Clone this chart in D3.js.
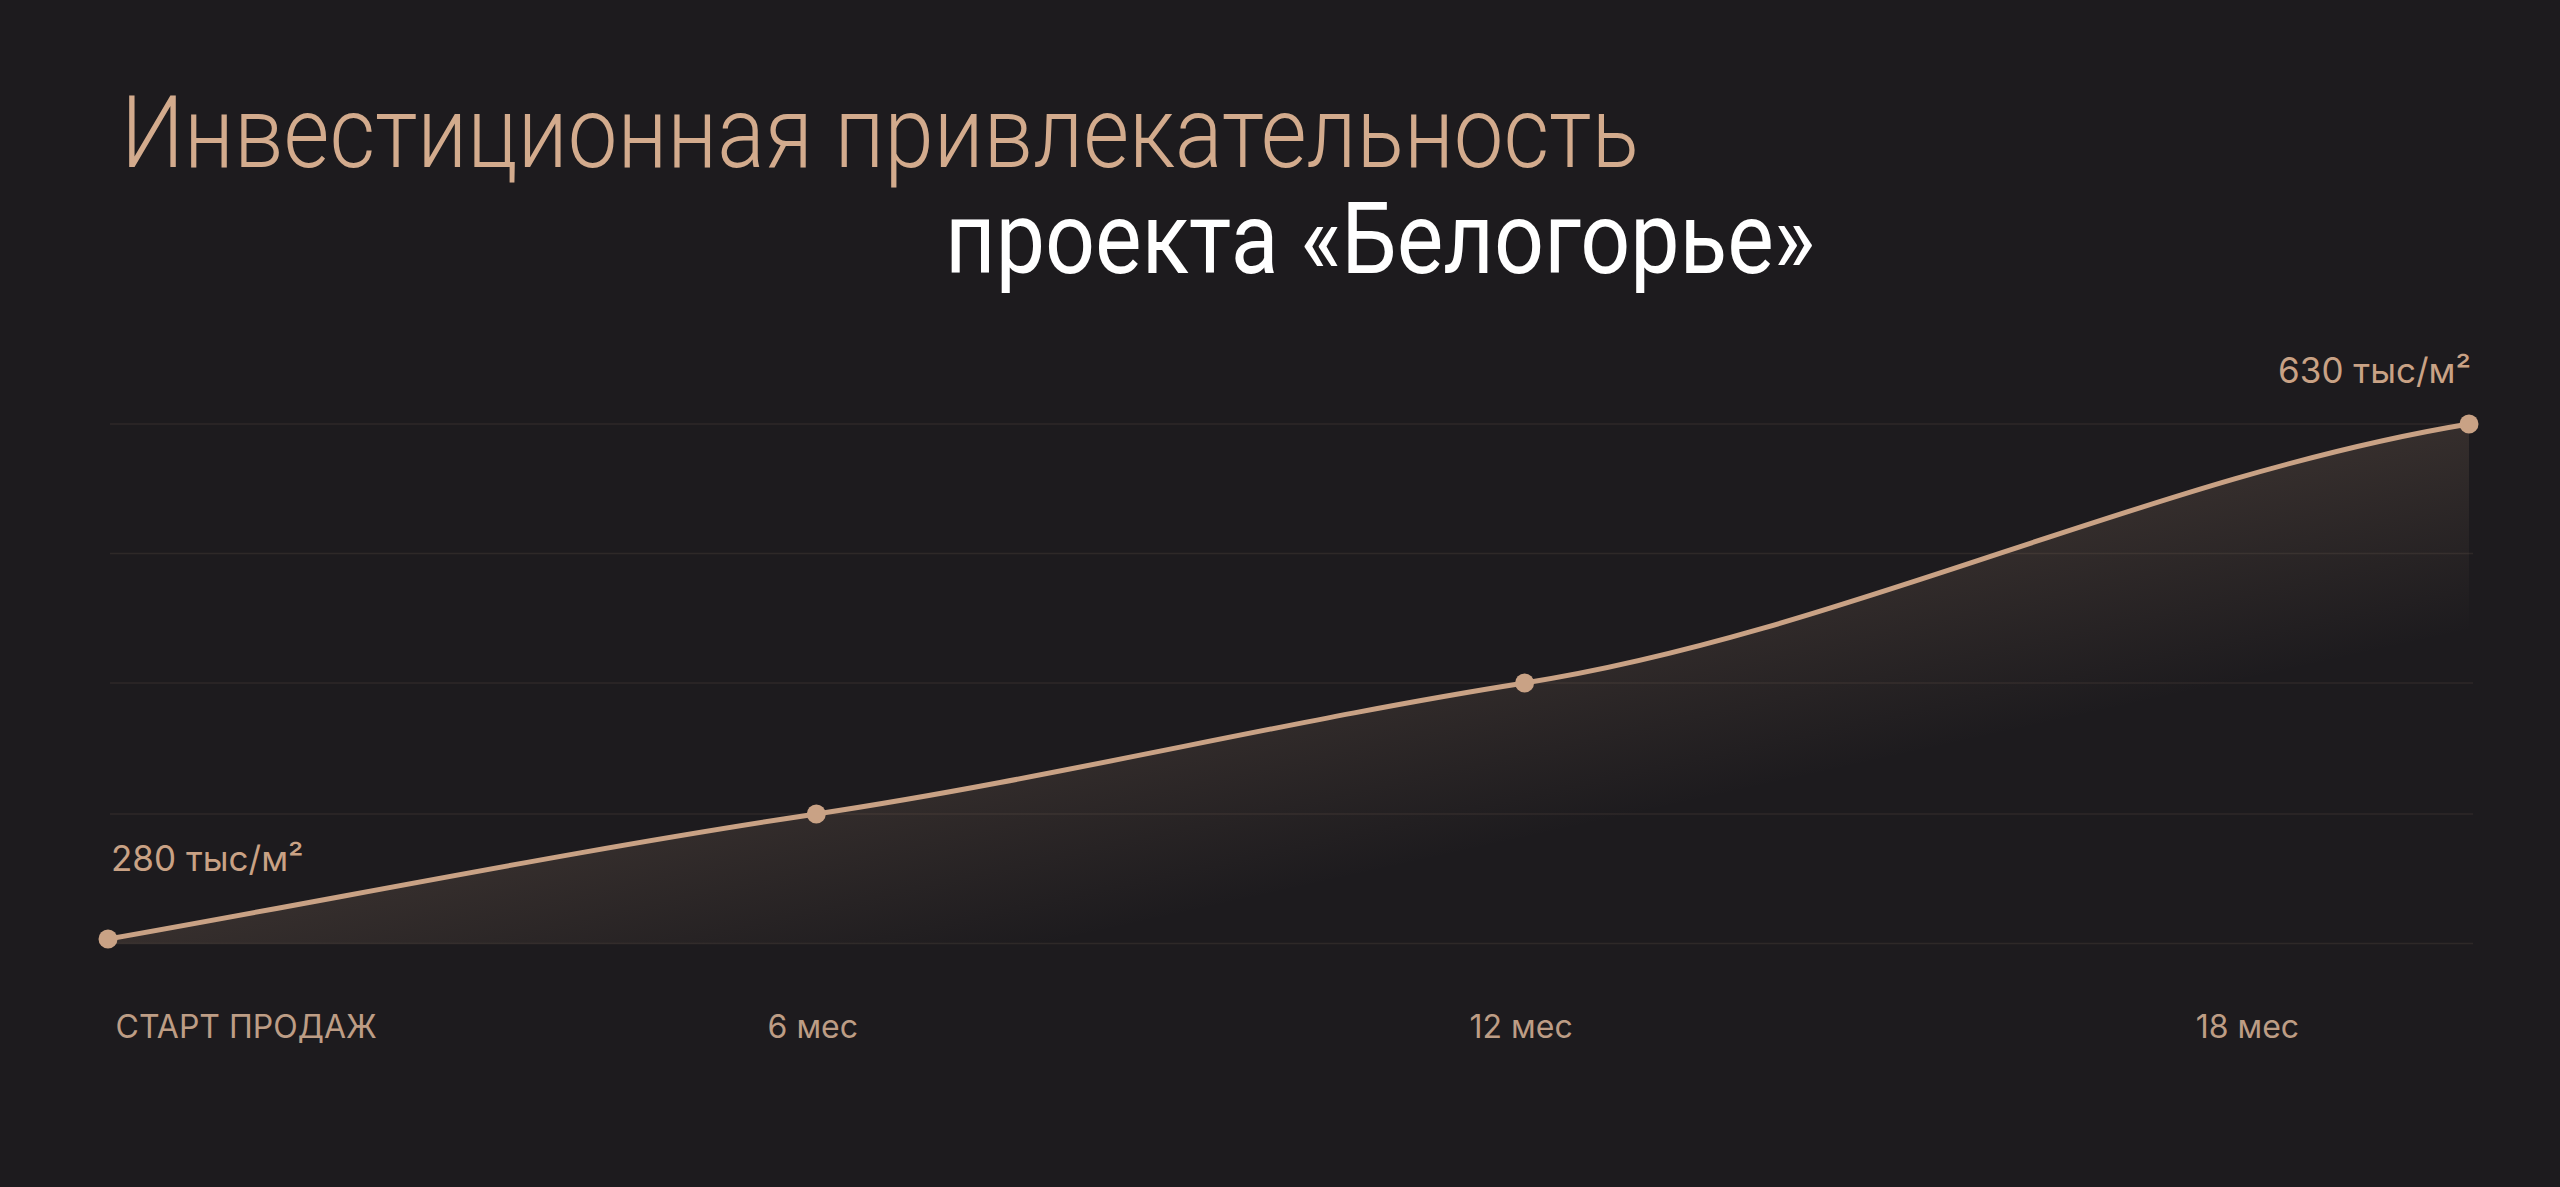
<!DOCTYPE html>
<html lang="ru">
<head>
<meta charset="utf-8">
<script src="https://cdn.jsdelivr.net/npm/d3@7"></script>
<style>
  html, body { margin: 0; padding: 0; background: #1d1b1e; }
  svg { display: block; }
</style>
</head>
<body>
<div id="chart"></div>
<script>
// Data
const months = [0, 6, 12, 20];
const prices = [280, 365, 454, 630];          // тыс. руб. за м²
const tickMonths = [0, 6, 12, 18];
const tickLabels = ["СТАРТ ПРОДАЖ", "6 мес", "12 мес", "18 мес"];
const gridLevels = [277, 365, 454, 542, 630];
const titleLines = ["Инвестиционная привлекательность", "проекта «Белогорье»"];

const W = 2560, H = 1187;
const tan = "#c9a285";

const svg = d3.select("#chart")
    .append("svg")
    .attr("width", W)
    .attr("height", H);

// Gradient under the curve
const defs = svg.append("defs");
const grad = defs.append("linearGradient")
    .attr("id", "areaFill")
    .attr("x1", 0).attr("y1", 0)
    .attr("x2", 1).attr("y2", 1);
grad.append("stop").attr("offset", 0.46).attr("stop-color", tan).attr("stop-opacity", 0.17);
grad.append("stop").attr("offset", 0.7).attr("stop-color", tan).attr("stop-opacity", 0);

// Scales
const x = d3.scaleLinear().domain([0, 20]).range([108, 2469]);
const y = d3.scaleLinear().domain([280, 630]).range([939, 424]);

// Smooth curve: tangents follow the gentler neighbouring slope, eases into the last point
function curveSoft(context) {
    let pts;
    return {
        areaStart() {}, areaEnd() {},
        lineStart() { pts = []; },
        point(px, py) { pts.push([px, py]); },
        lineEnd() {
            const n = pts.length;
            const s = d3.pairs(pts).map(([a, b]) => (b[1] - a[1]) / (b[0] - a[0]));
            const m = pts.map((p, i) => {
                if (i === 0) return s[0];
                if (i === n - 1) return s[n - 2] * 0.6;
                return 0.85 * (Math.abs(s[i - 1]) < Math.abs(s[i]) ? s[i - 1] : s[i]);
            });
            context.moveTo(pts[0][0], pts[0][1]);
            for (let i = 0; i < n - 1; i++) {
                const [x0, y0] = pts[i], [x1, y1] = pts[i + 1], h = (x1 - x0) / 3;
                context.bezierCurveTo(x0 + h, y0 + m[i] * h, x1 - h, y1 - m[i + 1] * h, x1, y1);
            }
        }
    };
}

const data = months.map((m, i) => ({ month: m, price: prices[i] }));

const line = d3.line()
    .x(d => x(d.month))
    .y(d => y(d.price))
    .curve(curveSoft);

const base = y(gridLevels[0]);
const linePath = line(data);
const areaPath = linePath
    + `L${x(months[months.length - 1])},${base}`
    + `L${x(months[0])},${base}Z`;

// Area
svg.append("path")
    .attr("d", areaPath)
    .attr("fill", "url(#areaFill)");

// Grid lines
svg.append("g")
    .selectAll("line")
    .data(gridLevels)
    .join("line")
    .attr("x1", 110)
    .attr("x2", 2473)
    .attr("y1", d => y(d))
    .attr("y2", d => y(d))
    .attr("stroke", tan)
    .attr("stroke-opacity", 0.1)
    .attr("stroke-width", 1.5);

// Line
svg.append("path")
    .attr("d", linePath)
    .attr("fill", "none")
    .attr("stroke", tan)
    .attr("stroke-width", 5)
    .attr("stroke-linecap", "round");

// Points
svg.append("g")
    .selectAll("circle")
    .data(data)
    .join("circle")
    .attr("cx", d => x(d.month))
    .attr("cy", d => y(d.price))
    .attr("r", 9.5)
    .attr("fill", tan);

// Value labels at both ends
const first = data[0], last = data[data.length - 1];
svg.append("text")
    .attr("x", x(first.month) + 3)
    .attr("y", y(first.price) - 68)
    .attr("font-family", "Inter, 'Noto Sans', sans-serif")
    .attr("font-size", 35)
    .attr("fill", tan)
    .text(`${first.price} тыс/м²`);

svg.append("text")
    .attr("x", x(last.month) + 2)
    .attr("y", y(last.price) - 41)
    .attr("text-anchor", "end")
    .attr("font-family", "Inter, 'Noto Sans', sans-serif")
    .attr("font-size", 35)
    .attr("fill", tan)
    .text(`${last.price} тыс/м²`);

// X axis labels
const xAxis = d3.axisBottom(x)
    .tickValues(tickMonths)
    .tickFormat((d, i) => tickLabels[i])
    .tickSize(0)
    .tickPadding(0);

const axisG = svg.append("g")
    .attr("transform", "translate(0, 1038)")
    .call(xAxis);
axisG.select(".domain").remove();
axisG.selectAll("text")
    .attr("dy", 0)
    .attr("font-family", "Inter, 'Noto Sans', sans-serif")
    .attr("font-size", 32)
    .attr("fill", "#bd9d85")
    .attr("text-anchor", (d, i) => i === 0 ? "start" : "middle")
    .attr("dx", (d, i) => i === 0 ? 7 : (i === tickMonths.length - 1 ? 14 : -4));

// Title
svg.append("text")
    .attr("x", 121)
    .attr("y", 167)
    .attr("font-family", "Roboto, sans-serif")
    .attr("font-weight", 300)
    .attr("font-size", 100)
    .attr("fill", "#d3ab8d")
    .attr("textLength", 1518)
    .attr("lengthAdjust", "spacingAndGlyphs")
    .text(titleLines[0]);

svg.append("text")
    .attr("x", 945)
    .attr("y", 273)
    .attr("font-family", "Roboto, sans-serif")
    .attr("font-weight", 400)
    .attr("font-size", 100)
    .attr("fill", "#ffffff")
    .attr("textLength", 870)
    .attr("lengthAdjust", "spacingAndGlyphs")
    .text(titleLines[1]);
</script>
</body>
</html>
